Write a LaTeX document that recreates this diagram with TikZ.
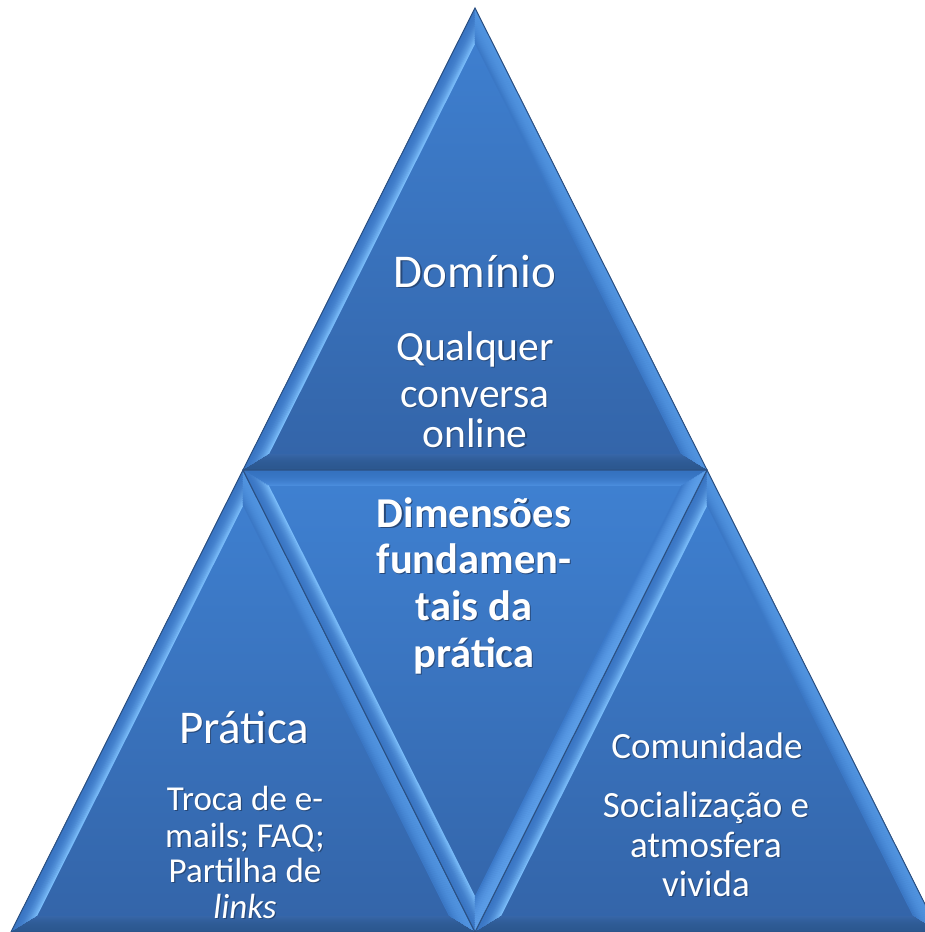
\documentclass[tikz,border=0pt]{standalone}
\usepackage{fontspec}
\setmainfont{Carlito}
\usetikzlibrary{calc}
\definecolor{fillA}{HTML}{3F81D2}
\definecolor{fillB}{HTML}{3364A8}
\definecolor{edgecol}{HTML}{2B5082}
\definecolor{bandLo}{HTML}{3A76C4}
\definecolor{bandLi}{HTML}{78BAF8}
\definecolor{bandRo}{HTML}{5194E0}
\definecolor{bandRi}{HTML}{3B78C6}
\definecolor{bandBo}{HTML}{2C5890}
\definecolor{bandBi}{HTML}{3766A8}
\definecolor{bandTo}{HTML}{3572C0}
\definecolor{bandTi}{HTML}{4A8CDC}
\definecolor{bandMRo}{HTML}{5C9EE8}
\definecolor{bandMRi}{HTML}{3C7ACA}
\definecolor{txtsh}{HTML}{27497A}
\newcommand\sh[1]{\rlap{\kern1.2pt\raisebox{-1.2pt}{\textcolor{txtsh}{#1}}}#1}
% #1 incenter, #2 #3 vertices of the side, #4 outer colour, #5 inner colour
\newcommand\bevelside[5]{%
  \foreach \bvt in {0,1,...,15}{%
    \pgfmathtruncatemacro\bvp{100*(\bvt/15)^2}%
    \pgfmathsetmacro\bvs{1-(\bvt+0.5)/143.1}%
    \draw[line width=1.3pt, color=#5!\bvp!#4] ($(#1)!\bvs!(#2)$) -- ($(#1)!\bvs!(#3)$);
  }%
}
\tikzset{
  trifill/.style={top color=fillA, bottom color=fillB, draw=none},
  triedge/.style={draw=edgecol, line width=1pt, line join=miter},
  title/.style={anchor=base, inner sep=0pt, text=white, font=\fontsize{47}{47}\selectfont},
  body/.style={anchor=base, inner sep=0pt, text=white, font=\fontsize{41.5}{41.5}\selectfont},
  bodybold/.style={anchor=base, inner sep=0pt, text=white, font=\fontsize{42.5}{42.5}\selectfont\bfseries},
  smallbody/.style={anchor=base, inner sep=0pt, text=white, font=\fontsize{35}{35}\selectfont},
  rbody/.style={anchor=base, inner sep=0pt, text=white, font=\fontsize{37}{37}\selectfont},
}
\begin{document}
\begin{tikzpicture}[x=1pt,y=-1pt]
\useasboundingbox (0,0) rectangle (925,932);
\clip (0,0) rectangle (925,932);
% vertices
\coordinate (tA) at (475,8);   \coordinate (tB) at (243,470); \coordinate (tC) at (707,470); \coordinate (tI) at (475,326.9);
\coordinate (lA) at (243,470); \coordinate (lB) at (11,932);  \coordinate (lC) at (475,932); \coordinate (lI) at (243,788.9);
\coordinate (rA) at (707,470); \coordinate (rB) at (475,932); \coordinate (rC) at (939,932); \coordinate (rI) at (707,788.9);
\coordinate (mP) at (243,470); \coordinate (mQ) at (707,470); \coordinate (mR) at (475,932); \coordinate (mI) at (475,613.1);
% top triangle
\fill[trifill] (tA) -- (tB) -- (tC) -- cycle;
\bevelside{tI}{tA}{tB}{bandLo}{bandLi}
\bevelside{tI}{tA}{tC}{bandRo}{bandRi}
\bevelside{tI}{tB}{tC}{bandBo}{bandBi}
\draw[triedge] (tA) -- (tB) -- (tC) -- cycle;
% left triangle
\fill[trifill] (lA) -- (lB) -- (lC) -- cycle;
\bevelside{lI}{lA}{lB}{bandLo}{bandLi}
\bevelside{lI}{lA}{lC}{bandRo}{bandRi}
\bevelside{lI}{lB}{lC}{bandBo}{bandBi}
\draw[triedge] (lA) -- (lB) -- (lC) -- cycle;
% right triangle
\fill[trifill] (rA) -- (rB) -- (rC) -- cycle;
\bevelside{rI}{rA}{rB}{bandLo}{bandLi}
\bevelside{rI}{rA}{rC}{bandRo}{bandRi}
\bevelside{rI}{rB}{rC}{bandBo}{bandBi}
\draw[triedge] (rA) -- (rB) -- (rC) -- cycle;
% middle inverted triangle
\fill[trifill] (mP) -- (mQ) -- (mR) -- cycle;
\bevelside{mI}{mP}{mQ}{bandTo}{bandTi}
\bevelside{mI}{mP}{mR}{bandLo}{bandLi}
\bevelside{mI}{mQ}{mR}{bandMRo}{bandMRi}
\draw[triedge] (mP) -- (mQ) -- (mR) -- cycle;
% texts
\node[title] (dom) at (475,287) {\sh{Domínio}};
\node[body] (dom1) at (475,360) {\sh{Qualquer}};
\node[body] (dom2) at (475,407) {\sh{conversa}};
\node[body] (dom3) at (475,447) {\sh{online}};
\node[bodybold] (dim1) at (474,527) {\sh{Dimensões}};
\node[bodybold] (dim2) at (474,573) {\sh{fundamen-}};
\node[bodybold] (dim3) at (474,620) {\sh{tais da}};
\node[bodybold] (dim4) at (474,667) {\sh{prática}};
\node[title] (pra) at (244,743) {\sh{Prática}};
\node[smallbody] (pra1) at (245,810) {\sh{Troca de e-}};
\node[smallbody] (pra2) at (245,847) {\sh{mails; FAQ;}};
\node[smallbody] (pra3) at (245,882) {\sh{Partilha de}};
\node[smallbody] (pra4) at (245,918) {\sh{\textit{links}}};
\node[rbody] (com) at (707,758) {\sh{Comunidade}};
\node[rbody] (com1) at (706,817) {\sh{Socialização e}};
\node[rbody] (com2) at (706,857) {\sh{atmosfera}};
\node[rbody] (com3) at (706,896) {\sh{vivida}};
\end{tikzpicture}
\end{document}
